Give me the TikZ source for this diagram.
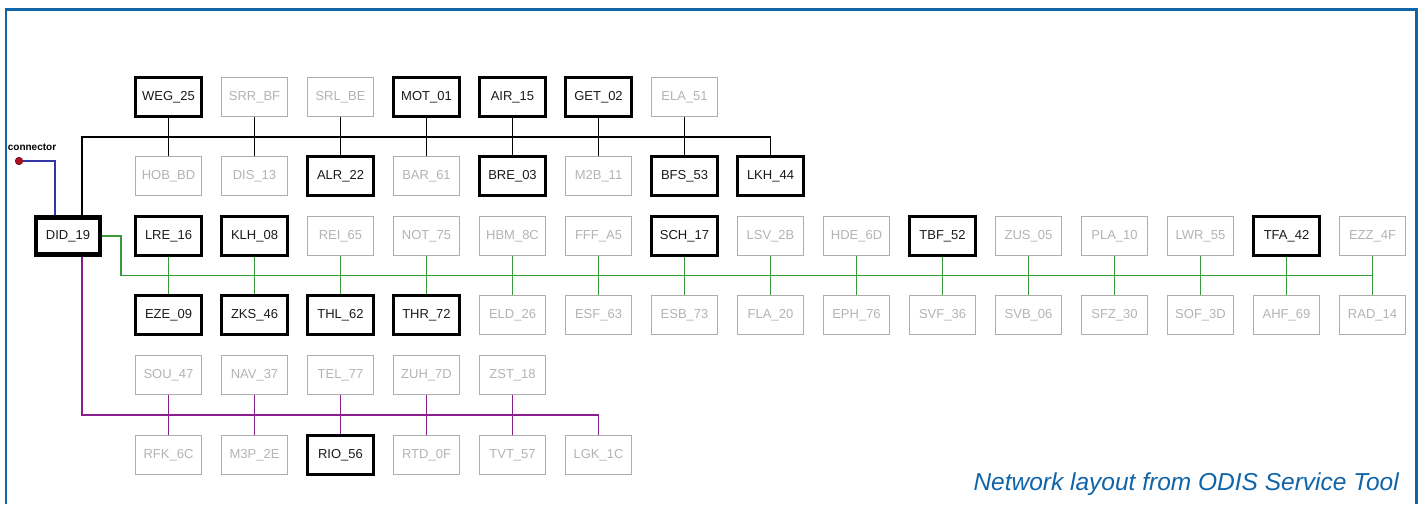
\documentclass[tikz,border=0pt]{standalone}
\usepackage{fontspec}
\newfontfamily\ecufont{Liberation Sans}
\definecolor{FrameBlue}{HTML}{1064A8}
\definecolor{BusGreen}{HTML}{389A38}
\definecolor{BusPurple}{HTML}{8A1E8A}
\definecolor{FeedBlue}{HTML}{3535A5}
\definecolor{PlugRed}{HTML}{B01020}
\definecolor{IdleGrey}{HTML}{ADADAD}
\definecolor{IdleText}{HTML}{B3B3B3}
\definecolor{LiveText}{HTML}{1A1A1A}
\usetikzlibrary{positioning,calc}

\tikzset{
  ecu/.style={rectangle, minimum width=66pt, minimum height=39pt, inner sep=0pt,
    font=\ecufont\fontsize{13}{15}\selectfont},
  idle/.style={draw=IdleGrey, text=IdleText, line width=1pt},
  live/.style={draw=black, text=LiveText, line width=2.5pt},
  gateway/.style={draw=black, text=LiveText, line width=4.5pt, minimum width=64pt, minimum height=37pt},
  wire/.style={line width=1.8pt},
}

\begin{document}
\begin{tikzpicture}[x=1pt, y=-1pt]
    \useasboundingbox (0,0) rectangle (1426,504);
    \draw[FrameBlue, line width=2.5pt] (6,504) |- (1416.5,9.5) -- (1416.5,504);

    % top rows, black bus
    \foreach \lbl/\kind [count=\i] in {WEG\_25/live, SRR\_BF/idle, SRL\_BE/idle, MOT\_01/live, AIR\_15/live, GET\_02/live, ELA\_51/idle}
      \node[ecu, \kind] (t\i) at ({168.5+86*(\i-1)}, 97) {\lbl};
    \foreach \lbl/\kind [count=\i] in {HOB\_BD/idle, DIS\_13/idle, ALR\_22/live, BAR\_61/idle, BRE\_03/live, M2B\_11/idle, BFS\_53/live, LKH\_44/live}
      \node[ecu, \kind] (m\i) at ({168.5+86*(\i-1)}, 176) {\lbl};

    % green rows
    \foreach \lbl/\kind [count=\i] in {LRE\_16/live, KLH\_08/live, REI\_65/idle, NOT\_75/idle, HBM\_8C/idle, FFF\_A5/idle, SCH\_17/live, LSV\_2B/idle, HDE\_6D/idle, TBF\_52/live, ZUS\_05/idle, PLA\_10/idle, LWR\_55/idle, TFA\_42/live, EZZ\_4F/idle}
      \node[ecu, \kind] (c\i) at ({168.5+86*(\i-1)}, 236) {\lbl};
    \foreach \lbl/\kind [count=\i] in {EZE\_09/live, ZKS\_46/live, THL\_62/live, THR\_72/live, ELD\_26/idle, ESF\_63/idle, ESB\_73/idle, FLA\_20/idle, EPH\_76/idle, SVF\_36/idle, SVB\_06/idle, SFZ\_30/idle, SOF\_3D/idle, AHF\_69/idle, RAD\_14/idle}
      \node[ecu, \kind] (d\i) at ({168.5+86*(\i-1)}, 315) {\lbl};

    % purple rows
    \foreach \lbl/\kind [count=\i] in {SOU\_47/idle, NAV\_37/idle, TEL\_77/idle, ZUH\_7D/idle, ZST\_18/idle}
      \node[ecu, \kind] (p\i) at ({168.5+86*(\i-1)}, 375) {\lbl};
    \foreach \lbl/\kind [count=\i] in {RFK\_6C/idle, M3P\_2E/idle, RIO\_56/live, RTD\_0F/idle, TVT\_57/idle, LGK\_1C/idle}
      \node[ecu, \kind] (q\i) at ({168.5+86*(\i-1)}, 455) {\lbl};

    \node[ecu, gateway] (did) at (68, 236) {DID\_19};

    % diagnosis connector
    \node[circle, fill=PlugRed, draw=PlugRed!60!black, line width=0.6pt, minimum size=7.5pt, inner sep=0pt] (plug) at (19, 161) {};
    \node[font=\ecufont\bfseries\fontsize{10}{11}\selectfont, inner sep=0pt] (lbl) at (32, 147) {connector};
    \draw[FeedBlue, wire] (plug) -| ([xshift=-13pt]did.north);

    % buses
    \coordinate (kb) at ($(t1.south)!.5!(m1.north)$);
    \coordinate (gb) at ($(c1.south)!.5!(d1.north)$);
    \coordinate (pb) at ($(p1.south)!.5!(q1.north)$);
    \draw[wire] ([xshift=14pt]did.north) |- (kb) -| (m8.north);
    \foreach \i in {1,...,7}
      \draw[wire] (t\i) -- (m\i);
    \draw[BusGreen, wire] (did.east) -| ([xshift=-47.5pt]gb) -- (gb -| d15.north);
    \foreach \i in {1,...,15}
      \draw[BusGreen, wire] (c\i) -- (d\i);
    \draw[BusPurple, wire] ([xshift=14pt]did.south) |- (pb) -| (q6.north);
    \foreach \i in {1,...,5}
      \draw[BusPurple, wire] (p\i) -- (q\i);

    \node[font=\ecufont\itshape\fontsize{24.5}{27}\selectfont, text=FrameBlue, anchor=base east, inner sep=0pt] (cap) at (1399, 490) {Network layout from ODIS Service Tool};
\end{tikzpicture}
\end{document}
